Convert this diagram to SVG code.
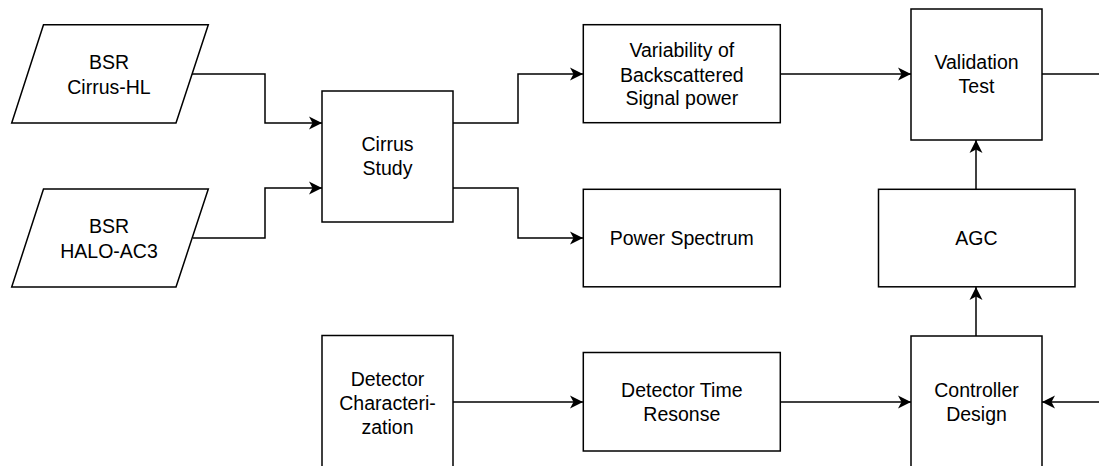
<svg xmlns="http://www.w3.org/2000/svg" width="1099" height="466" viewBox="0 0 1099 466">
  <style>
    .box { fill: #ffffff; stroke: #000000; stroke-width: 1.5; }
    .lbl { font-family: "Liberation Sans", Arial, sans-serif; font-size: 19.5px; fill: #000000; text-anchor: middle; }
    .edge { fill: none; stroke: #000000; stroke-width: 1.5; }
  </style>
  <defs>
    <marker id="arrow" markerUnits="userSpaceOnUse" markerWidth="14" markerHeight="14" refX="13" refY="7" orient="auto">
      <path d="M0,0.5 L13,7 L0,13.5 L3.5,7 Z" fill="#000000"/>
    </marker>
  </defs>
  <rect width="1099" height="466" fill="#ffffff"/>

  <g id="connectors">
    <path class="edge" d="M192,74 H265 V123 H322" marker-end="url(#arrow)"/>
    <path class="edge" d="M193,238 H265 V188 H322" marker-end="url(#arrow)"/>
    <path class="edge" d="M453,123 H518 V74 H583" marker-end="url(#arrow)"/>
    <path class="edge" d="M453,188 H518 V238 H583" marker-end="url(#arrow)"/>
    <path class="edge" d="M781,74 H911" marker-end="url(#arrow)"/>
    <path class="edge" d="M1042,74 H1099"/>
    <path class="edge" d="M976,189 V140" marker-end="url(#arrow)"/>
    <path class="edge" d="M976,336 V287" marker-end="url(#arrow)"/>
    <path class="edge" d="M453,402 H583" marker-end="url(#arrow)"/>
    <path class="edge" d="M781,402 H911" marker-end="url(#arrow)"/>
    <path class="edge" d="M1099,402 H1042" marker-end="url(#arrow)"/>
  </g>

  <g id="bsr-cirrus-hl">
    <polygon class="box" points="43.5,24.7 208.3,24.7 176,123 11.7,123"/>
    <text class="lbl" x="109" y="69">BSR</text>
    <text class="lbl" x="109" y="94">Cirrus-HL</text>
  </g>

  <g id="bsr-halo-ac3">
    <polygon class="box" points="43.5,189 208.3,189 176,287 11.7,287"/>
    <text class="lbl" x="109" y="233">BSR</text>
    <text class="lbl" x="109" y="258">HALO-AC3</text>
  </g>

  <g id="cirrus-study">
    <rect class="box" x="322" y="91" width="131" height="131"/>
    <text class="lbl" x="387.5" y="151">Cirrus</text>
    <text class="lbl" x="387.5" y="175">Study</text>
  </g>

  <g id="variability">
    <rect class="box" x="583.3" y="24.7" width="197" height="98"/>
    <text class="lbl" x="681.8" y="57">Variability of</text>
    <text class="lbl" x="681.8" y="81.5">Backscattered</text>
    <text class="lbl" x="681.8" y="105">Signal power</text>
  </g>

  <g id="power-spectrum">
    <rect class="box" x="583.3" y="189.3" width="197" height="97.5"/>
    <text class="lbl" x="681.8" y="245">Power Spectrum</text>
  </g>

  <g id="validation-test">
    <rect class="box" x="911" y="9" width="131" height="131"/>
    <text class="lbl" x="976.5" y="69">Validation</text>
    <text class="lbl" x="976.5" y="93">Test</text>
  </g>

  <g id="agc">
    <rect class="box" x="878.5" y="189.3" width="196.5" height="97.5"/>
    <text class="lbl" x="976.5" y="245">AGC</text>
  </g>

  <g id="detector-characterization">
    <rect class="box" x="322" y="335.5" width="131" height="134"/>
    <text class="lbl" x="387.5" y="386">Detector</text>
    <text class="lbl" x="387.5" y="410">Characteri-</text>
    <text class="lbl" x="387.5" y="433.5">zation</text>
  </g>

  <g id="detector-time-response">
    <rect class="box" x="583.3" y="352.5" width="197" height="98.5"/>
    <text class="lbl" x="681.8" y="397">Detector Time</text>
    <text class="lbl" x="681.8" y="421">Resonse</text>
  </g>

  <g id="controller-design">
    <rect class="box" x="911" y="336" width="131" height="133"/>
    <text class="lbl" x="976.5" y="396.5">Controller</text>
    <text class="lbl" x="976.5" y="420.5">Design</text>
  </g>
</svg>
